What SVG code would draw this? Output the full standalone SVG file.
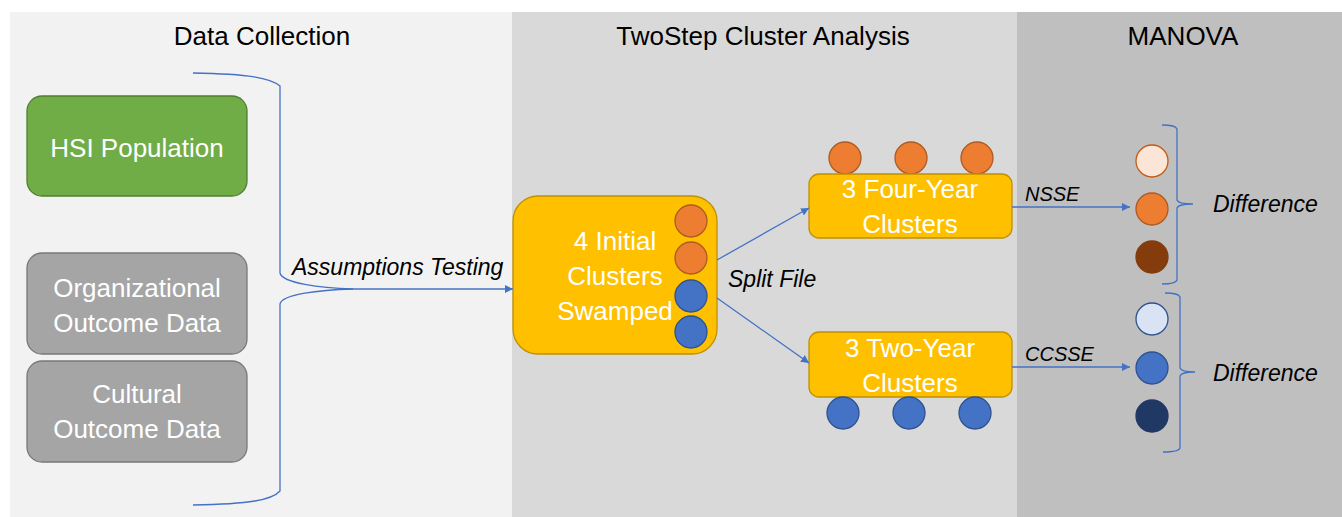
<svg xmlns="http://www.w3.org/2000/svg" width="1342" height="517" viewBox="0 0 1342 517">
<style>
.title{font-family:"Liberation Sans",Arial,sans-serif;font-size:26px;fill:#000;text-anchor:middle}
.lbl{font-family:"Liberation Sans",Arial,sans-serif;font-size:26px;fill:#fff;text-anchor:middle}
.it{font-family:"Liberation Sans",Arial,sans-serif;font-style:italic;fill:#000}
.ln{fill:none;stroke:#4472c4;stroke-width:1.3}
.or{fill:#ed7d31;stroke:#ae5a21;stroke-width:1.3}
.bl{fill:#4472c4;stroke:#2f528f;stroke-width:1.3}
.yb{fill:#ffc000;stroke:#bf9000;stroke-width:1.3}
</style>
<defs>
<marker id="ah" viewBox="0 0 10 10" refX="10" refY="5" markerWidth="8" markerHeight="8" markerUnits="userSpaceOnUse" orient="auto">
<path d="M0,0 L10,5 L0,10 z" fill="#4472c4"/>
</marker>
</defs>
<rect x="0" y="0" width="1342" height="517" fill="#fff"/>
<rect x="10" y="12" width="502" height="505" fill="#f2f2f2"/>
<rect x="512" y="12" width="505" height="505" fill="#d9d9d9"/>
<rect x="1017" y="12" width="325" height="505" fill="#bfbfbf"/>
<text class="title" x="262" y="45">Data Collection</text>
<text class="title" x="763" y="45">TwoStep Cluster Analysis</text>
<text class="title" x="1183" y="45">MANOVA</text>

<g id="hsi"><rect x="27" y="96" width="220" height="100" rx="15" fill="#70ad47" stroke="#507e32" stroke-width="1.3"/><text class="lbl" x="137" y="157">HSI Population</text></g>
<g id="org"><rect x="27" y="253" width="220" height="101" rx="15" fill="#a5a5a5" stroke="#787878" stroke-width="1.3"/><text class="lbl" x="137" y="297">Organizational</text><text class="lbl" x="137" y="332">Outcome Data</text></g>
<g id="cult"><rect x="27" y="361" width="220" height="101" rx="15" fill="#a5a5a5" stroke="#787878" stroke-width="1.3"/><text class="lbl" x="137" y="403">Cultural</text><text class="lbl" x="137" y="438">Outcome Data</text></g>

<g id="initial"><rect class="yb" x="513" y="196" width="204" height="158" rx="25"/>
<text class="lbl" x="615" y="250">4 Initial</text><text class="lbl" x="615" y="285">Clusters</text><text class="lbl" x="615" y="320">Swamped</text>
<circle class="or" cx="691" cy="221" r="16"/><circle class="or" cx="691" cy="258" r="16"/><circle class="bl" cx="691" cy="296" r="16"/><circle class="bl" cx="691" cy="332" r="16"/></g>

<g id="fouryear"><circle class="or" cx="845" cy="158" r="16"/><circle class="or" cx="911" cy="158" r="16"/><circle class="or" cx="977" cy="158" r="16"/>
<rect class="yb" x="809" y="174" width="203" height="64" rx="10"/>
<text class="lbl" x="910" y="198">3 Four-Year</text><text class="lbl" x="910" y="233">Clusters</text></g>

<g id="twoyear"><rect class="yb" x="809" y="332" width="203" height="65" rx="10"/>
<text class="lbl" x="910" y="357">3 Two-Year</text><text class="lbl" x="910" y="392">Clusters</text>
<circle class="bl" cx="843" cy="413" r="16"/><circle class="bl" cx="909" cy="413" r="16"/><circle class="bl" cx="975" cy="413" r="16"/></g>

<g id="nsse-res"><circle cx="1152" cy="161" r="16" fill="#fbe5d6" stroke="#c55a11" stroke-width="1.3"/><circle class="or" cx="1152" cy="209" r="16"/><circle cx="1152" cy="257" r="16" fill="#843c0c" stroke="#843c0c" stroke-width="1.3"/></g>
<g id="ccsse-res"><circle cx="1152" cy="319" r="16" fill="#dae3f3" stroke="#2f528f" stroke-width="1.3"/><circle class="bl" cx="1152" cy="368" r="16"/><circle cx="1152" cy="416" r="16" fill="#203864" stroke="#203864" stroke-width="1.3"/></g>

<g id="connectors">
<path class="ln" d="M193,73 C250,74 270,78 280,86 L280,273 C282,283 320,288 353,289"/>
<path class="ln" d="M353,289 C320,290 282,294 280,304 L280,491 C272,500 250,504 193,505"/>
<path class="ln" d="M353,289 L513,289" marker-end="url(#ah)"/>
<path class="ln" d="M717,260 L809,208" marker-end="url(#ah)"/>
<path class="ln" d="M717,298 L809,363" marker-end="url(#ah)"/>
<path class="ln" d="M1012,207 L1130,207" marker-end="url(#ah)"/>
<path class="ln" d="M1012,367 L1130,367" marker-end="url(#ah)"/>
<path class="ln" d="M1162,125 C1170,125 1176,126 1177,129 L1177,200 C1178,203 1184,204 1193,204 C1184,204 1178,205 1177,208 L1177,280 C1176,283 1170,284 1162,284"/>
<path class="ln" d="M1165,293 C1173,293 1179,294 1180,297 L1180,368 C1181,371 1187,372 1195,372 C1187,372 1181,373 1180,376 L1180,448 C1179,451 1173,452 1163,452"/>
</g>
<text class="it" x="292" y="275" font-size="23">Assumptions Testing</text>
<text class="it" x="728" y="287" font-size="23">Split File</text>
<text class="it" x="1025" y="201" font-size="20">NSSE</text>
<text class="it" x="1025" y="361" font-size="20">CCSSE</text>
<text class="it" x="1213" y="212" font-size="23">Difference</text>
<text class="it" x="1213" y="381" font-size="23">Difference</text>
</svg>
